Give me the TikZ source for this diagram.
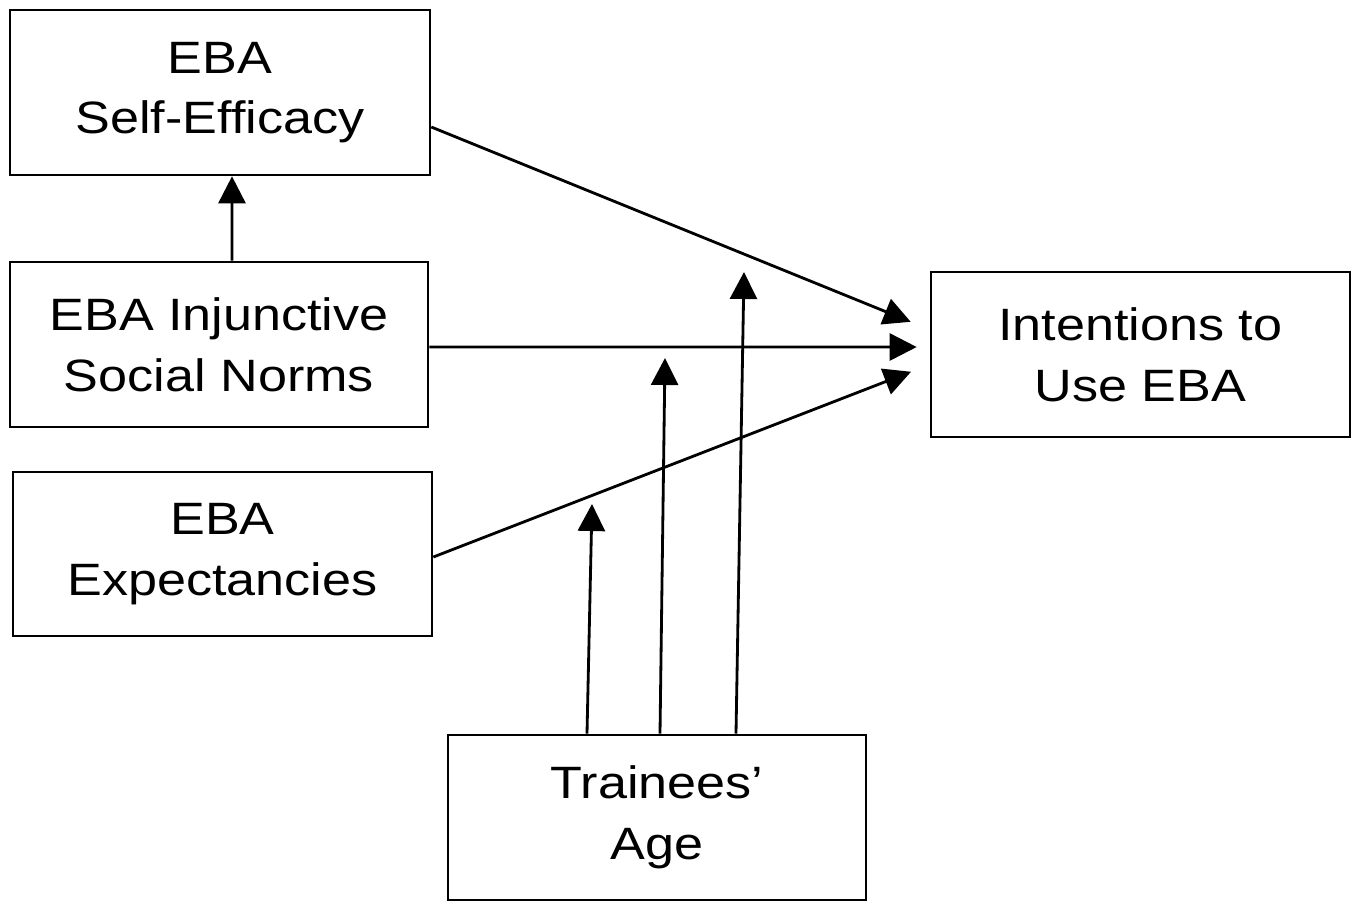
\documentclass[tikz,border=0pt]{standalone}
\usepackage{fontspec}
\setmainfont{Liberation Sans}[FakeStretch=1.15]
\usetikzlibrary{arrows.meta, positioning}

\begin{document}
\begin{tikzpicture}[
  box/.style={draw, line width=0.75pt, minimum width=4.18cm, minimum height=1.65cm,
    inner sep=0pt, align=center, font=\fontsize{12.9}{17.3}\selectfont},
  pil/.style={-{Triangle[length=0.27cm, width=0.27cm]}, line width=0.8pt}
]
  \useasboundingbox (0,0) rectangle (13.59,-9.02);
  % bokse
  \node[box, minimum width=4.20cm] (eff) at (2.20,-0.925) {EBA\\Self-Efficacy};
  \node[box] (norms) at (2.19,-3.445) {EBA Injunctive\\Social Norms};
  \node[box, minimum width=4.19cm, minimum height=1.64cm] (expect) at (2.225,-5.54) {EBA\\Expectancies};
  \node[box, minimum width=4.19cm] (intent) at (11.405,-3.545) {Intentions to\\Use EBA};
  \node[box] (age) at (6.57,-8.175) {Trainees’\\Age};
  % moderatorpile
  \coordinate (m1) at (5.92,-5.04);
  \coordinate (m2) at (6.65,-3.58);
  \coordinate (m3) at (7.44,-2.72);
  % hovedeffekter
  \draw[pil] ([xshift=0.13cm]norms.north) -- ([xshift=0.12cm]eff.south);
  \draw[pil, shorten >=0.205cm] ([yshift=-0.345cm]eff.east) -- ([yshift=0.25cm]intent.west);
  \draw[pil, shorten >=0.13cm] ([yshift=-0.025cm]norms.east) -- ([yshift=0.075cm]intent.west);
  \draw[pil, shorten >=0.2cm] ([yshift=-0.03cm]expect.east) -- ([yshift=-0.10cm]intent.west);
  % alder
  \draw[pil] ([xshift=-0.70cm]age.north) -- (m1);
  \draw[pil] ([xshift=0.03cm]age.north) -- (m2);
  \draw[pil] ([xshift=0.79cm]age.north) -- (m3);
\end{tikzpicture}
\end{document}
